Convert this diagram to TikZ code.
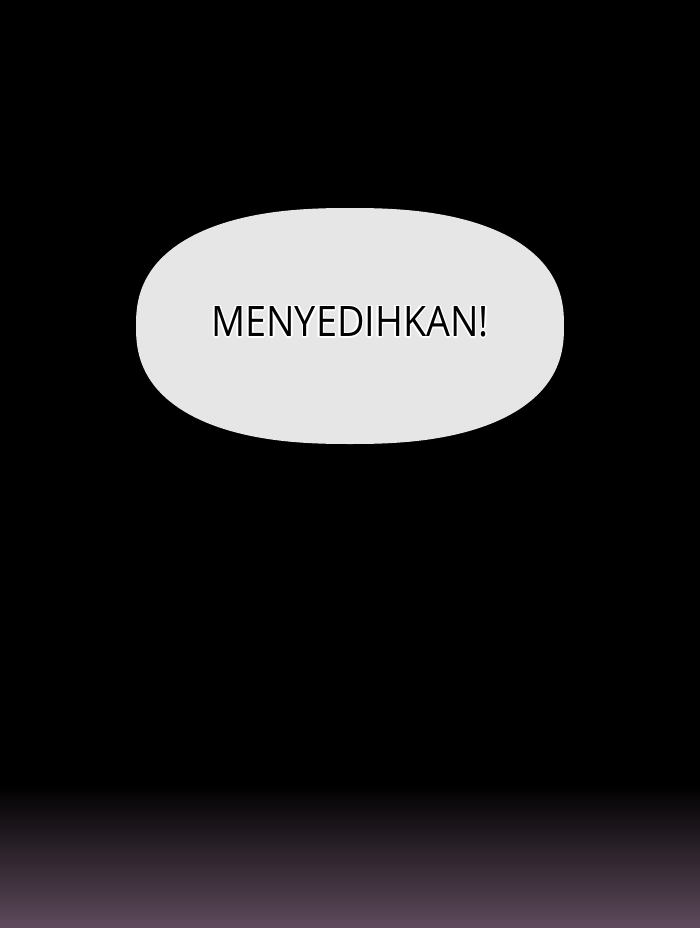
\documentclass[tikz,border=0pt]{standalone}
\usepackage{fontspec}
\setmainfont{Open Sans}
\usetikzlibrary{calc}
\definecolor{bubblegray}{RGB}{230,230,230}
\definecolor{floorpurple}{RGB}{94,74,92}
\tikzset{
  bubble/.style={fill=bubblegray, draw=none},
  halo/.style={text=white, font=\fontsize{42}{48}\selectfont, inner sep=0pt, xscale=0.9},
  word/.style={text=black, font=\fontsize{42}{48}\selectfont, inner sep=0pt, xscale=0.9}
}
\begin{document}
\begin{tikzpicture}[x=1pt,y=-1pt]
  \useasboundingbox (0,0) rectangle (700,928);
  \fill[black] (0,0) rectangle (700,928);
  \shade[top color=black, bottom color=floorpurple] (0,785) rectangle (700,928);
  \fill[bubble] plot[domain=1:361, samples=181, smooth]
    ({350+214*cos(\x)*abs(cos(\x))^(-0.17)}, {326+118*sin(\x)*abs(sin(\x))^(-0.17)}) -- cycle;
  \foreach \a in {0,45,...,359} {
    \node[halo] at ($(350,322)+(\a:1.7)$) {MENYEDIHKAN!};
  }
  \node[word] (txt) at (350,322) {MENYEDIHKAN!};
\end{tikzpicture}
\end{document}
